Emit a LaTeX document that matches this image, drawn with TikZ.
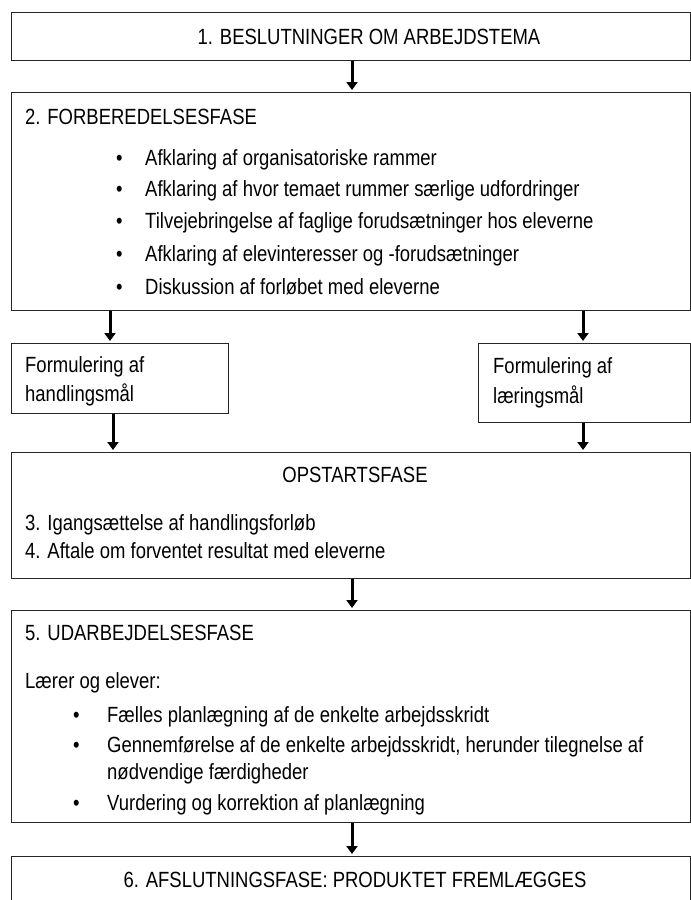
\documentclass[tikz,border=0pt]{standalone}
\usepackage{fontspec}
\setmainfont{Liberation Sans}[FakeStretch=0.84]
\usetikzlibrary{arrows.meta,positioning}

\tikzset{
  phasebox/.style={draw=black!85, line width=1.1pt, inner sep=0pt, anchor=north west},
  txt/.style={inner sep=0pt, anchor=base west, font=\fontsize{22}{26}\selectfont},
  ctxt/.style={txt, anchor=base},
  flow/.style={line width=3pt, -{Triangle[length=8pt,width=11pt]}, shorten >=2pt}
}

\begin{document}
\begin{tikzpicture}[x=1pt,y=-1pt]
\useasboundingbox (0,0) rectangle (691,900);
% boxes
\node[phasebox, minimum width=679pt, minimum height=48pt] (beslut) at (11,12) {};
\node[phasebox, minimum width=679pt, minimum height=218pt] (forb) at (11,92) {};
\node[phasebox, minimum width=217pt, minimum height=70pt] (handl) at (11,343) {};
\node[phasebox, minimum width=212pt, minimum height=79pt] (laer) at (478,343) {};
\node[phasebox, minimum width=679pt, minimum height=126pt] (opst) at (11,452) {};
\node[phasebox, minimum width=679pt, minimum height=212pt] (udarb) at (11,610) {};
\node[phasebox, minimum width=679pt, minimum height=60pt] (afsl) at (11,856) {};
% texts
\node[ctxt] (t1) at (369,44) {1. BESLUTNINGER OM ARBEJDSTEMA};
\node[txt] (t2) at (25,124) {2. FORBEREDELSESFASE};
\node[txt] (f1) at (116,165) {\textbullet};
\node[txt] (f1t) at (145,165) {Afklaring af organisatoriske rammer};
\node[txt] (f2) at (116,196) {\textbullet};
\node[txt] (f2t) at (145,196) {Afklaring af hvor temaet rummer særlige udfordringer};
\node[txt] (f3) at (116,228) {\textbullet};
\node[txt] (f3t) at (145,228) {Tilvejebringelse af faglige forudsætninger hos eleverne};
\node[txt] (f4) at (116,261) {\textbullet};
\node[txt] (f4t) at (145,261) {Afklaring af elevinteresser og -forudsætninger};
\node[txt] (f5) at (116,294) {\textbullet};
\node[txt] (f5t) at (145,294) {Diskussion af forløbet med eleverne};
\node[txt] (h1) at (25,372) {Formulering af};
\node[txt] (h2) at (25,401) {handlingsmål};
\node[txt] (l1) at (493,373) {Formulering af};
\node[txt] (l2) at (493,403) {læringsmål};
\node[ctxt] (o0) at (355,482) {OPSTARTSFASE};
\node[txt] (o1) at (25,530) {3. Igangsættelse af handlingsforløb};
\node[txt] (o2) at (25,558) {4. Aftale om forventet resultat med eleverne};
\node[txt] (u0) at (25,640) {5. UDARBEJDELSESFASE};
\node[txt] (u1) at (25,688) {Lærer og elever:};
\node[txt] (u2) at (73,722) {\textbullet};
\node[txt] (u2t) at (107,722) {Fælles planlægning af de enkelte arbejdsskridt};
\node[txt] (u3) at (73,752) {\textbullet};
\node[txt] (u3t) at (107,752) {Gennemførelse af de enkelte arbejdsskridt, herunder tilegnelse af};
\node[txt] (u3c) at (107,779) {nødvendige færdigheder};
\node[txt] (u4) at (73,810) {\textbullet};
\node[txt] (u4t) at (107,810) {Vurdering og korrektion af planlægning};
\node[ctxt] (a0) at (355,887) {6. AFSLUTNINGSFASE: PRODUKTET FREMLÆGGES};
% arrows
\coordinate (xmid) at (352,0);
\coordinate (xleft) at (110,0);
\coordinate (xleftb) at (113,0);
\coordinate (xright) at (583,0);
\draw[flow] (beslut.south -| xmid) -- (forb.north -| xmid);
\draw[flow] (forb.south -| xleft) -- (handl.north -| xleft);
\draw[flow] (forb.south -| xright) -- (laer.north -| xright);
\draw[flow] (handl.south -| xleftb) -- (opst.north -| xleftb);
\draw[flow] (laer.south -| xright) -- (opst.north -| xright);
\draw[flow] (opst.south -| xmid) -- (udarb.north -| xmid);
\draw[flow] (udarb.south -| xmid) -- (afsl.north -| xmid);
\end{tikzpicture}
\end{document}
